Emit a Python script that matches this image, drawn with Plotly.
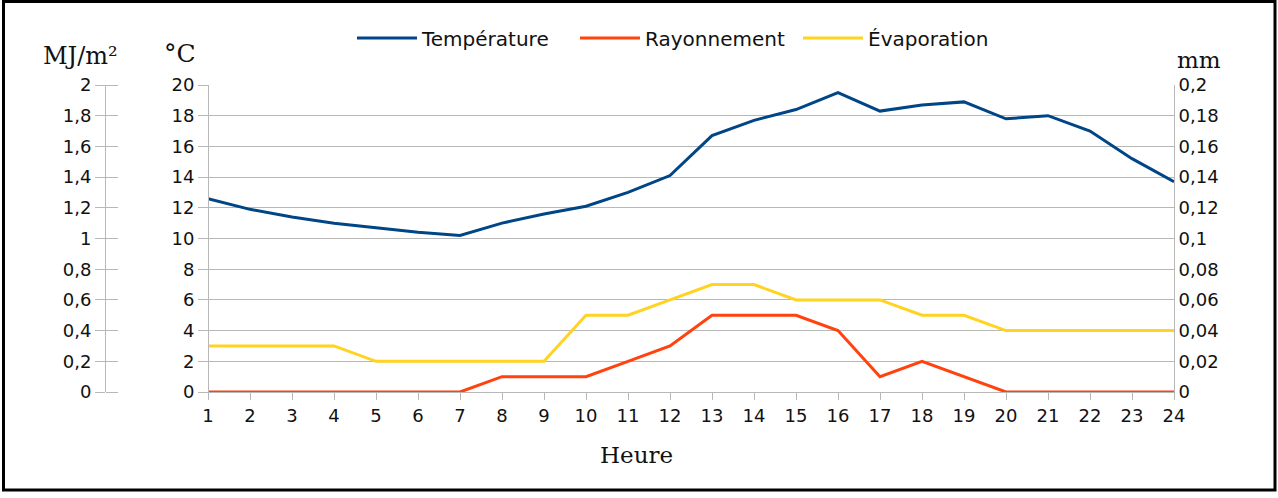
import plotly.graph_objects as go

# Hourly readings
hours = list(range(1, 25))
temperature_c = [12.6, 11.9, 11.4, 11.0, 10.7, 10.4, 10.2, 11.0, 11.6, 12.1, 13.0, 14.1,
                 16.7, 17.7, 18.4, 19.5, 18.3, 18.7, 18.9, 17.8, 18.0, 17.0, 15.2, 13.7]
radiation_mj = [0, 0, 0, 0, 0, 0, 0, 0.1, 0.1, 0.1, 0.2, 0.3,
                0.5, 0.5, 0.5, 0.4, 0.1, 0.2, 0.1, 0, 0, 0, 0, 0]
evaporation_mm = [0.03, 0.03, 0.03, 0.03, 0.02, 0.02, 0.02, 0.02, 0.02, 0.05, 0.05, 0.06,
                  0.07, 0.07, 0.06, 0.06, 0.06, 0.05, 0.05, 0.04, 0.04, 0.04, 0.04, 0.04]

# Axis ticks
temp_ticks = [0, 2, 4, 6, 8, 10, 12, 14, 16, 18, 20]
temp_labels = [str(v) for v in temp_ticks]
mj_ticks = [0, 0.2, 0.4, 0.6, 0.8, 1, 1.2, 1.4, 1.6, 1.8, 2]
mj_labels = ["0", "0,2", "0,4", "0,6", "0,8", "1", "1,2", "1,4", "1,6", "1,8", "2"]
mm_ticks = [0, 0.02, 0.04, 0.06, 0.08, 0.1, 0.12, 0.14, 0.16, 0.18, 0.2]
mm_labels = ["0", "0,02", "0,04", "0,06", "0,08", "0,1", "0,12", "0,14", "0,16", "0,18", "0,2"]

W, H = 1278, 498
ML, MR, MT, MB = 105, 104, 85, 106
PW = W - ML - MR
PH = H - MT - MB


def px_x(x):
    return (x - ML) / PW


def px_y(y):
    return (H - MB - y) / PH


GRID = "#b8b8b8"
TXT = "#111111"
tick_font = dict(family="DejaVu Sans", size=18, color=TXT)

x_dom0 = px_x(208)

fig = go.Figure()
fig.add_trace(go.Scatter(x=hours, y=temperature_c, name="Température", mode="lines",
                         line=dict(color="#004586", width=3), yaxis="y", cliponaxis=False))
fig.add_trace(go.Scatter(x=hours, y=radiation_mj, name="Rayonnement", mode="lines",
                         line=dict(color="#ff420e", width=3), yaxis="y2", cliponaxis=False))
fig.add_trace(go.Scatter(x=hours, y=evaporation_mm, name="Évaporation", mode="lines",
                         line=dict(color="#ffd320", width=3), yaxis="y3", cliponaxis=False))
# Hidden copy on the companion MJ/m² axis so its right-hand tick marks are drawn
fig.add_trace(go.Scatter(x=hours, y=radiation_mj, mode="lines", showlegend=False,
                         hoverinfo="skip", line=dict(color="rgba(0,0,0,0)", width=0),
                         yaxis="y4"))

fig.update_layout(
    width=W, height=H,
    margin=dict(l=ML, r=MR, t=MT, b=MB),
    paper_bgcolor="white", plot_bgcolor="white",
    showlegend=True,
    legend=dict(orientation="h", x=px_x(352), xanchor="left", y=px_y(38), yanchor="middle",
                font=dict(family="DejaVu Sans", size=20, color=TXT), bgcolor="rgba(0,0,0,0)",
                entrywidth=148, entrywidthmode="pixels", itemwidth=60),
    xaxis=dict(domain=[x_dom0, 1], range=[1, 24], tickvals=hours,
               ticks="outside", ticklen=7, tickcolor=GRID, showline=True, linecolor=GRID,
               showgrid=False, zeroline=False, tickfont=tick_font, anchor="y"),
    yaxis=dict(range=[0, 20], tickvals=temp_ticks, ticktext=temp_labels,
               anchor="free", position=x_dom0, side="left",
               ticks="outside", ticklen=10, tickcolor=GRID, showline=True, linecolor=GRID,
               showgrid=True, gridcolor=GRID, zeroline=False, tickfont=tick_font),
    yaxis2=dict(range=[0, 2], tickvals=mj_ticks, ticktext=mj_labels, overlaying="y",
                anchor="free", position=0, side="left",
                ticks="outside", ticklen=10, tickcolor=GRID, showline=True, linecolor=GRID,
                showgrid=False, zeroline=False, tickfont=tick_font),
    yaxis4=dict(range=[0, 2], tickvals=mj_ticks, overlaying="y",
                anchor="free", position=0, side="right", showticklabels=False,
                ticks="outside", ticklen=12, tickcolor=GRID, showline=False,
                showgrid=False, zeroline=False),
    yaxis3=dict(range=[0, 0.2], tickvals=mm_ticks, ticktext=mm_labels, overlaying="y",
                anchor="x", side="right", ticks="", showline=True, linecolor=GRID,
                showgrid=False, zeroline=False, tickfont=tick_font),
)

annotations = [
    ("MJ/m²", 80, 56, 24),
    ("°C", 180, 54, 25),
    ("mm", 1199, 60, 23),
    ("Heure", 636, 455, 23),
]
for text, ax_px, ay_px, size in annotations:
    fig.add_annotation(text=text, x=px_x(ax_px), y=px_y(ay_px), xref="paper", yref="paper",
                       showarrow=False, xanchor="center", yanchor="middle",
                       font=dict(family="DejaVu Serif", size=size, color=TXT))

# Frame around the whole chart
fig.add_shape(type="rect", xref="paper", yref="paper",
              x0=px_x(3.5), x1=px_x(1275), y0=px_y(490), y1=px_y(1.5),
              line=dict(color="black", width=3), fillcolor="rgba(0,0,0,0)", layer="above")

fig.write_html("out.html")
